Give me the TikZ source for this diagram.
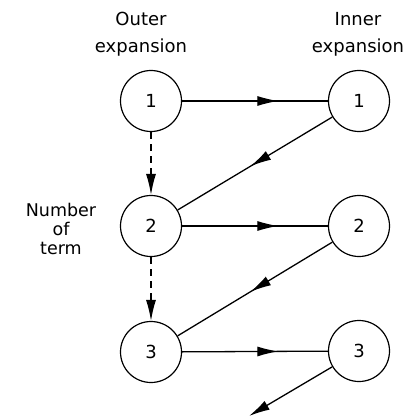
\documentclass[tikz,border=0pt]{standalone}
\usepackage{fontspec}
\setmainfont{DejaVu Sans}
\usetikzlibrary{arrows.meta,decorations.markings}
\begin{document}
\begin{tikzpicture}[x=1pt,y=-1pt,
  term/.style={draw,circle,line width=1.2pt,minimum size=61pt,inner sep=0pt,font=\fontsize{18}{18}\selectfont},
  lbl/.style={align=center,font=\fontsize{18}{27}\selectfont},
  conn/.style={line width=1.3pt},
  tip/.style={-{Latex[length=21pt,width=10pt]}},
  midarrow/.style={postaction={decorate},decoration={markings,mark=at position #1 with {\arrow{Latex[length=21pt,width=10pt]}}}},
  dashconn/.style={line width=1.3pt,dash pattern=on 7pt off 5pt}]
\useasboundingbox (0,0) rectangle (415,417);
\node[lbl] (outer) at (141,34) {Outer\\expansion};
\node[lbl] (inner) at (358,34) {Inner\\expansion};
\node[lbl,font=\fontsize{17.5}{19}\selectfont] (num) at (61,229) {Number\\of\\term};
\node[term] (L1) at (151,101) {1};
\node[term] (R1) at (359,101) {1};
\node[term] (L2) at (151,226) {2};
\node[term] (R2) at (359,226) {2};
\node[term] (L3) at (151,352) {3};
\node[term] (R3) at (359,351) {3};
\coordinate (end) at (249,416);
\draw[conn,midarrow=0.66] (L1) -- (R1);
\draw[conn,midarrow=0.66] (L2) -- (R2);
\draw[conn,midarrow=0.66] (L3) -- (R3);
\draw[conn,midarrow=0.53] (R1) -- (L2);
\draw[conn,midarrow=0.53] (R2) -- (L3);
\draw[conn,tip] (R3) -- (end);
\draw[dashconn,tip] (L1) -- (L2);
\draw[dashconn,tip] (L2) -- (L3);
\end{tikzpicture}
\end{document}
